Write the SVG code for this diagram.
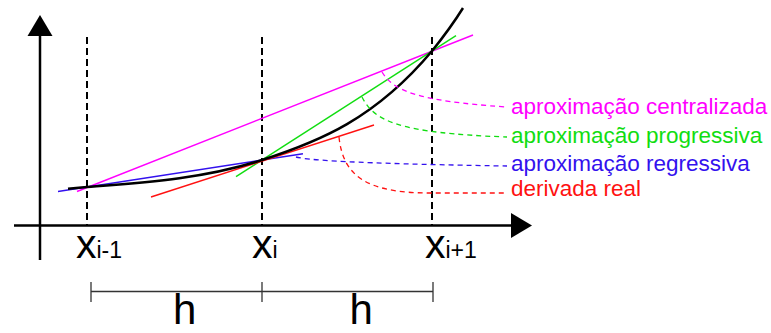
<svg xmlns="http://www.w3.org/2000/svg" width="771" height="333" viewBox="0 0 771 333">
<style>
.axis{stroke:#000;stroke-width:2.5;fill:none}
.grid{stroke:#000;stroke-width:2;stroke-dasharray:7 4;fill:none}
.leader{fill:none;stroke-width:1.3;stroke-dasharray:5 4}
.ln{fill:none;stroke-width:1.4}
.lbl{font-family:"Liberation Sans",Arial,sans-serif;font-size:22.5px}
.tick{font-family:"Liberation Sans",Arial,sans-serif;fill:#000}
.dim{stroke:#333;stroke-width:1.3;fill:none}
</style>
<rect width="771" height="333" fill="#fff"/>
<g id="axes">
<line class="axis" x1="40" y1="260" x2="40" y2="30"/>
<polygon points="40,15 27.5,36 52.5,36" fill="#000"/>
<line class="axis" x1="14" y1="225.5" x2="515" y2="225.5"/>
<polygon points="532,225.5 511,213 511,238" fill="#000"/>
</g>
<g id="gridlines">
<line class="grid" x1="87" y1="37" x2="87" y2="225"/>
<line class="grid" x1="262" y1="37" x2="262" y2="225"/>
<line class="grid" x1="432" y1="37" x2="432" y2="225"/>
</g>
<g id="lines">
<line class="ln" stroke="#f0f" x1="77" y1="191.5" x2="473" y2="35"/>
<line class="ln" stroke="#31e" x1="58" y1="191.5" x2="303" y2="153.7"/>
<line class="ln" stroke="#1d1" x1="236" y1="176.7" x2="456" y2="35.6"/>
<line class="ln" stroke="#f11" x1="151" y1="197" x2="374" y2="125"/>
</g>
<g id="curve">
<path d="M68,188.8 L87,187 C145,182.5 204,178.8 262,160 C319,141.7 375,119 432,51 C442,38.6 452.7,24.5 463,8" fill="none" stroke="#000" stroke-width="2.5"/>
</g>
<g id="connectors">
<path class="leader" stroke="#f0f" d="M382,72 C393,90 415,101 507,107"/>
<path class="leader" stroke="#1d1" d="M362,97 C374,121 398,133 507,137"/>
<path class="leader" stroke="#31e" d="M296,157 Q318,163 507,166"/>
<path class="leader" stroke="#f11" d="M339,137 C343,175 365,193 430,193 L507,193"/>
</g>
<g id="label-central"><text class="lbl" x="511" y="114" fill="#f0f">aproximação centralizada</text></g>
<g id="label-prog"><text class="lbl" x="511" y="143" fill="#1d1">aproximação progressiva</text></g>
<g id="label-reg"><text class="lbl" x="511" y="171" fill="#31e">aproximação regressiva</text></g>
<g id="label-real"><text class="lbl" x="511" y="196" fill="#f11">derivada real</text></g>
<g id="tick-xim1"><text class="tick" x="76" y="257.5"><tspan font-size="41">x</tspan><tspan font-size="23">i-1</tspan></text></g>
<g id="tick-xi"><text class="tick" x="252" y="257.5"><tspan font-size="41">x</tspan><tspan font-size="23">i</tspan></text></g>
<g id="tick-xip1"><text class="tick" x="425" y="257.5"><tspan font-size="41">x</tspan><tspan font-size="23">i+1</tspan></text></g>
<g id="dimension">
<line class="dim" x1="91" y1="291.5" x2="433" y2="291.5"/>
<line class="dim" x1="91" y1="282" x2="91" y2="302"/>
<line class="dim" x1="262" y1="282" x2="262" y2="302"/>
<line class="dim" x1="433" y1="282" x2="433" y2="302"/>
<text class="tick" x="173" y="324" font-size="42">h</text>
<text class="tick" x="349.5" y="324" font-size="42">h</text>
</g>
</svg>
